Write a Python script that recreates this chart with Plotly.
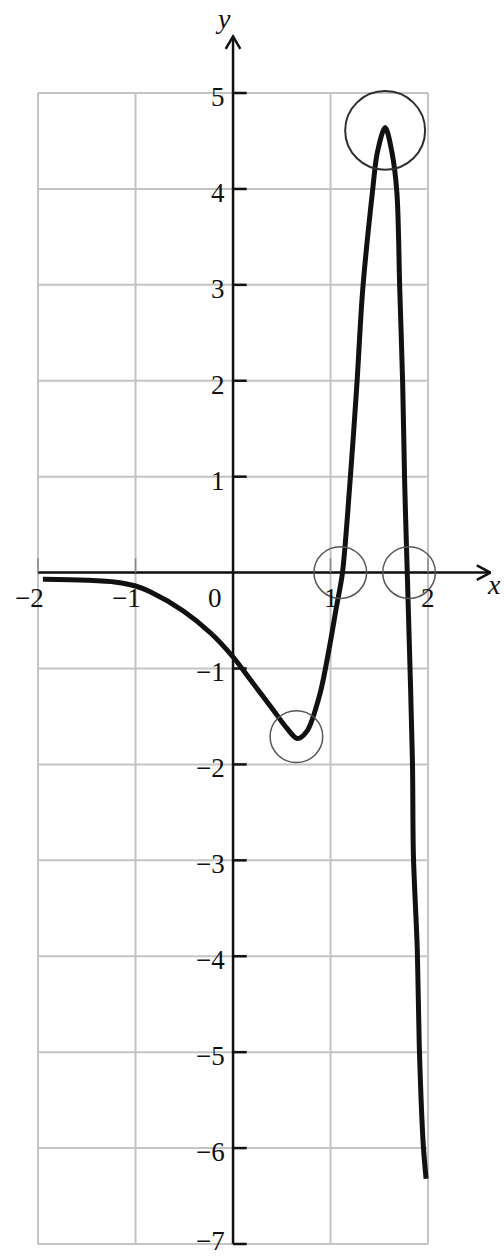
import plotly.graph_objects as go

# curve
curve_x = [-1.95, -1.5, -1.2, -1.0, -0.85, -0.51, -0.23, 0.0, 0.18, 0.41, 0.55, 0.66, 0.76, 0.89, 0.99, 1.06,
           1.12, 1.2, 1.27, 1.33, 1.43, 1.48, 1.56, 1.63, 1.68, 1.71, 1.74, 1.76, 1.785,
           1.795, 1.84, 1.85, 1.89, 1.91, 1.95, 1.98]
curve_y = [-0.07, -0.08, -0.1, -0.14, -0.2, -0.4, -0.63, -0.88, -1.12, -1.43, -1.62, -1.73, -1.65, -1.27, -0.77, -0.36,
           -0.02, 0.95, 1.96, 2.95, 3.97, 4.38, 4.64, 4.38, 3.97, 2.95, 1.96, 0.95, 0.06,
           -0.29, -1.97, -2.95, -3.94, -4.93, -5.95, -6.32]

# hand drawn circles: centre x, centre y, radius
circle_x = [1.56, 1.10, 1.805, 0.65]
circle_y = [4.61, 0.0, 0.0, -1.71]
circle_r = [0.41, 0.27, 0.27, 0.27]

x_ticks = [-2, -1, 0, 1, 2]
x_tick_labels = ['−2', '−1', '0', '1', '2']
y_ticks = [-7, -6, -5, -4, -3, -2, -1, 0, 1, 2, 3, 4, 5]
y_tick_labels = ['−7', '−6', '−5', '−4', '−3', '−2', '−1', '0', '1', '2', '3', '4', '5']

XMIN, XMAX = -2, 2
YMIN, YMAX = -7, 5
X_TIP, Y_TIP = 2.64, 5.59

GRID = '#c4c4c4'
INK = '#111111'
SERIF = 'Liberation Serif'

fig = go.Figure()

# grid
gx, gy = [], []
for v in x_ticks:
    gx += [v, v, None]
    gy += [YMIN, YMAX, None]
for v in y_ticks:
    gx += [XMIN, XMAX, None]
    gy += [v, v, None]
fig.add_trace(go.Scatter(x=gx, y=gy, mode='lines', line=dict(color=GRID, width=2), hoverinfo='skip'))

# axes
fig.add_trace(go.Scatter(x=[0, 0, None, XMIN, X_TIP], y=[YMIN, Y_TIP, None, 0, 0], mode='lines',
                         line=dict(color=INK, width=2.5), hoverinfo='skip'))
# arrow heads (open chevrons)
fig.add_trace(go.Scatter(x=[-0.075, 0, 0.075, None, X_TIP - 0.14, X_TIP, X_TIP - 0.14],
                         y=[Y_TIP - 0.13, Y_TIP, Y_TIP - 0.13, None, 0.075, 0, -0.075],
                         mode='lines', line=dict(color=INK, width=2.5), hoverinfo='skip'))

# tick marks
tx, ty = [], []
for v in y_ticks:
    if v != 0:
        tx += [0, 0.14, None]
        ty += [v, v, None]
fig.add_trace(go.Scatter(x=tx, y=ty, mode='lines', line=dict(color=INK, width=2.5), hoverinfo='skip'))
sx, sy = [], []
for v in x_ticks:
    if v != 0:
        sx += [v, v, None]
        sy += [0, 0.15, None]
fig.add_trace(go.Scatter(x=sx, y=sy, mode='lines', line=dict(color='#888888', width=1.5), hoverinfo='skip'))

# the curve
fig.add_trace(go.Scatter(x=curve_x, y=curve_y, mode='lines',
                         line=dict(color=INK, width=5, shape='spline', smoothing=0.9),
                         hoverinfo='skip'))

for cx, cy, r in zip(circle_x, circle_y, circle_r):
    fig.add_shape(type='circle', xref='x', yref='y', x0=cx - r, x1=cx + r, y0=cy - r, y1=cy + r,
                  line=dict(color='#2e2e2e' if r > 0.3 else '#555555', width=2 if r > 0.3 else 1.5))

# tick labels (bottom one nudged up so it stays on the page)
for v, t in zip(y_ticks, y_tick_labels):
    if v == 0:
        continue
    dy = 0.03 if v == YMIN else -0.04
    fig.add_annotation(x=-0.06, y=v + dy, text=t, showarrow=False, xanchor='right', yanchor='middle',
                       font=dict(family=SERIF, size=27, color=INK))
for v, t in zip(x_ticks, x_tick_labels):
    off = -0.18 if v == 0 else (-0.09 if v < 0 else 0)
    fig.add_annotation(x=v + off, y=-0.26, text=t, showarrow=False, xanchor='center', yanchor='middle',
                       font=dict(family=SERIF, size=27, color=INK))

fig.add_annotation(x=-0.1, y=5.78, text='<i>y</i>', showarrow=False, font=dict(family=SERIF, size=28, color=INK))
fig.add_annotation(x=2.68, y=-0.12, text='<i>x</i>', showarrow=False, font=dict(family=SERIF, size=28, color=INK))

fig.update_layout(
    width=504, height=1260,
    margin=dict(l=0, r=0, t=0, b=0),
    plot_bgcolor='white', paper_bgcolor='white',
    showlegend=False,
)
fig.update_xaxes(range=[-2.39, 2.779], visible=False, showgrid=False, zeroline=False)
fig.update_yaxes(range=[-7.167, 5.97], visible=False, showgrid=False, zeroline=False)

# page has a default 8px body margin; drop it so the figure fills the window
fig.write_html('out.html', config={'displayModeBar': False},
               post_script="document.body.style.margin='0';")
